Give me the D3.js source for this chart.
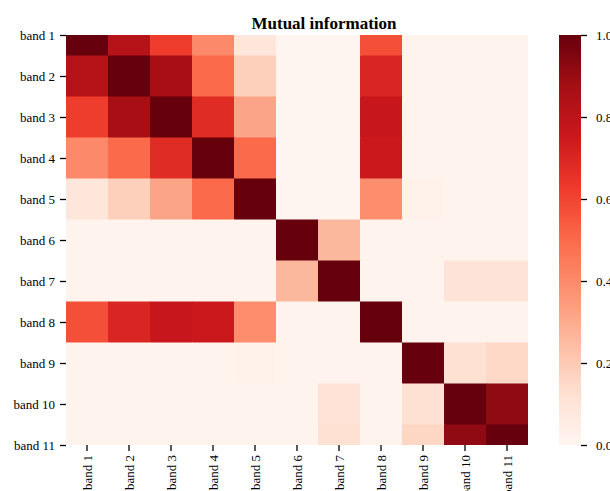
<!DOCTYPE html>
<html>
<head>
<meta charset="utf-8">
<script src="https://cdn.jsdelivr.net/npm/d3@7"></script>
<style>
  body { margin: 0; background: #fff; }
  text { font-family: "Liberation Serif", "Times New Roman", serif; }
</style>
</head>
<body>
<div id="chart"></div>
<script>
const width = 610, height = 491;

const bands = ["band 1", "band 2", "band 3", "band 4", "band 5", "band 6",
               "band 7", "band 8", "band 9", "band 10", "band 11"];

// mutual information between bands (row i, column j)
const mutualInfo = [
  [1.00, 0.82, 0.62, 0.40, 0.09, 0.00, 0.00, 0.57, 0.01, 0.01, 0.01],
  [0.82, 1.00, 0.87, 0.50, 0.18, 0.00, 0.00, 0.70, 0.01, 0.01, 0.01],
  [0.62, 0.87, 1.00, 0.68, 0.32, 0.00, 0.00, 0.76, 0.01, 0.01, 0.01],
  [0.40, 0.50, 0.68, 1.00, 0.50, 0.00, 0.00, 0.75, 0.01, 0.01, 0.01],
  [0.09, 0.18, 0.32, 0.50, 1.00, 0.00, 0.00, 0.39, 0.02, 0.01, 0.01],
  [0.01, 0.01, 0.01, 0.01, 0.01, 1.00, 0.26, 0.01, 0.01, 0.01, 0.01],
  [0.01, 0.01, 0.01, 0.01, 0.01, 0.26, 1.00, 0.01, 0.01, 0.10, 0.10],
  [0.57, 0.70, 0.76, 0.75, 0.39, 0.01, 0.01, 1.00, 0.01, 0.01, 0.01],
  [0.01, 0.01, 0.01, 0.01, 0.02, 0.01, 0.01, 0.01, 1.00, 0.12, 0.15],
  [0.01, 0.01, 0.01, 0.01, 0.01, 0.01, 0.11, 0.01, 0.12, 1.00, 0.92],
  [0.01, 0.01, 0.01, 0.01, 0.01, 0.01, 0.12, 0.01, 0.16, 0.92, 1.00]
];

const cbarTicks = [0.0, 0.2, 0.4, 0.6, 0.8, 1.0];

const svg = d3.select("#chart").append("svg")
  .attr("width", width)
  .attr("height", height);

const mLeft = 66, mRight = 528, mTop = 35, mBottom = 445;

const x = d3.scaleBand().domain(d3.range(bands.length)).range([mLeft, mRight]);
// rows are centred on the ticks, so the first and last rows are cut in half
const y = d3.scaleLinear().domain([0, bands.length - 1]).range([mTop, mBottom]);
const rowH = y(1) - y(0);

const reds = d3.schemeReds[9];
const color = d3.scaleLinear()
  .domain(d3.range(9).map(i => i / 8))
  .range(reds)
  .interpolate(d3.interpolateRgb);

svg.append("clipPath").attr("id", "clip")
  .append("rect")
  .attr("x", mLeft).attr("y", mTop)
  .attr("width", mRight - mLeft).attr("height", mBottom - mTop);

const cells = [];
mutualInfo.forEach((row, i) => row.forEach((v, j) => cells.push({ i, j, v })));

svg.append("g").attr("clip-path", "url(#clip)")
  .selectAll("rect")
  .data(cells)
  .enter()
  .append("rect")
  .attr("x", d => x(d.j))
  .attr("y", d => y(d.i) - rowH / 2)
  .attr("width", x.bandwidth() + 0.5)
  .attr("height", rowH + 0.5)
  .attr("fill", d => color(d.v));

// axes
const yAxis = svg.append("g")
  .attr("transform", `translate(${mLeft},0)`)
  .call(d3.axisLeft(y).tickValues(d3.range(bands.length)).tickFormat(i => bands[i]).tickSize(6).tickPadding(5));

const xAxis = svg.append("g")
  .attr("transform", `translate(0,${mBottom})`)
  .call(d3.axisBottom(x).tickFormat(i => bands[i]).tickSize(6).tickPadding(4));

xAxis.selectAll("text")
  .attr("transform", "rotate(-90)")
  .attr("x", -10)
  .attr("y", 0)
  .attr("dy", "0.35em")
  .style("text-anchor", "end");

[xAxis, yAxis].forEach(g => {
  g.select(".domain").remove();
  g.selectAll(".tick line").attr("stroke", "#000").attr("stroke-width", 1.3);
  g.selectAll("text").attr("font-size", 13).attr("fill", "#000")
    .style("font-family", "'Liberation Serif', 'Times New Roman', serif");
});

// colorbar
const cbX = 559, cbW = 22;
const cbScale = d3.scaleLinear().domain([0, 1]).range([mBottom, mTop]);

const grad = svg.append("defs").append("linearGradient")
  .attr("id", "cbar")
  .attr("x1", "0").attr("y1", "1").attr("x2", "0").attr("y2", "0");
reds.forEach((c, i) => {
  grad.append("stop").attr("offset", i / 8).attr("stop-color", c);
});

svg.append("rect")
  .attr("x", cbX).attr("y", mTop)
  .attr("width", cbW).attr("height", mBottom - mTop)
  .attr("fill", "url(#cbar)");

const cbAxis = svg.append("g")
  .attr("transform", `translate(${cbX + cbW},0)`)
  .call(d3.axisRight(cbScale).tickValues(cbarTicks).tickFormat(d3.format(".1f")).tickSize(6).tickPadding(9));
cbAxis.select(".domain").remove();
cbAxis.selectAll(".tick line").attr("stroke", "#000").attr("stroke-width", 1.3);
cbAxis.selectAll("text").attr("font-size", 13).attr("fill", "#000")
  .style("font-family", "'Liberation Serif', 'Times New Roman', serif");

// title
svg.append("text")
  .attr("x", 324).attr("y", 29)
  .attr("text-anchor", "middle")
  .attr("font-size", 17)
  .attr("font-weight", "bold")
  .attr("fill", "#000")
  .text("Mutual information");
</script>
</body>
</html>
